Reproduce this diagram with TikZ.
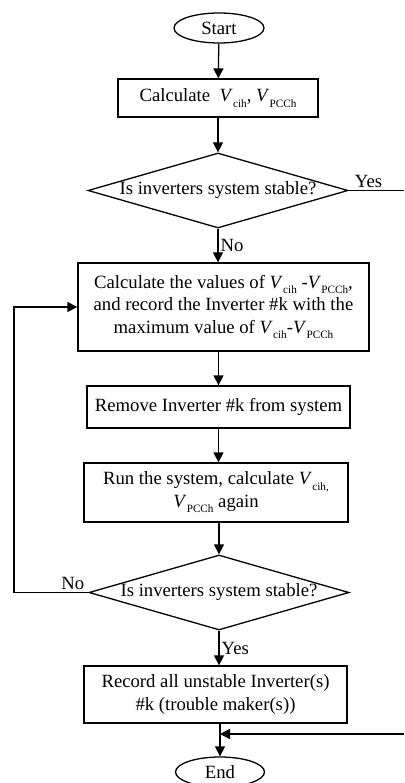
\documentclass[tikz,border=0pt]{standalone}
\usepackage{fontspec}
\setmainfont{Liberation Serif}
\usetikzlibrary{shapes.geometric,arrows.meta,calc}
\newcommand\fsz{\fontsize{18.7}{22.5}\selectfont}
\newcommand\vsub[1]{\textit{V}\kern0.3pt\raisebox{-0.3em}{\fontsize{11.2}{11.2}\selectfont #1}}
\begin{document}
\begin{tikzpicture}[x=1pt,y=-1pt,
  line width=1.3pt,
  every node/.style={font=\fsz, line width=1.3pt},
  term/.style={draw, ellipse, inner sep=0pt},
  proc/.style={draw, rectangle, inner sep=0pt, align=center},
  decide/.style={draw, diamond, inner sep=0pt, shape aspect=3.47, minimum width=260pt, minimum height=75pt},
  arr/.style={-{Triangle[length=10pt,width=10pt]}},
  lbl/.style={inner sep=2pt}]
\useasboundingbox (0,0) rectangle (404,783);
\node[term, minimum width=90pt, minimum height=30pt] (start) at (219,28) {Start};
\node[proc, minimum width=200pt, minimum height=38pt] (calc) at (218,98) {Calculate~~\vsub{cih}, \vsub{PCCh}};
\node[decide] (d1) at (218,190.5) {Is inverters system stable?};
\node[proc, minimum width=291pt, minimum height=88pt] (r2) at (223.5,307)
  {Calculate the values of \vsub{cih} -\vsub{PCCh},\\ and record the Inverter \#k with the\\ maximum value of \vsub{cih}-\vsub{PCCh}};
\node[proc, minimum width=263pt, minimum height=42pt] (r3) at (218.5,407) {Remove Inverter \#k from system};
\node[proc, minimum width=264pt, minimum height=59pt] (r4) at (216,492.5)
  {Run the system, calculate \vsub{cih,}\\ \vsub{PCCh} again};
\node[decide] (d2) at (219,592.5) {Is inverters system stable?};
\node[proc, minimum width=263pt, minimum height=57pt] (r5) at (215.5,694.5)
  {Record all unstable Inverter(s)\\ \#k (trouble maker(s))};
\node[term, minimum width=89pt, minimum height=30pt] (end) at (220,772) {End};
\coordinate (yesend) at (404,190.5);
\coordinate (rin) at (404,734);
\coordinate (loopx) at (14,0);
% connectors
\draw[arr] (start) -- (calc);
\draw[arr] (calc) -- (d1);
\draw[arr] (d1.south) -- node[right, lbl] {No} (d1.south |- r2.north);
\draw (d1.east) -- node[above, lbl, pos=0.36] {Yes} (yesend);
\draw[arr] (r2.south -| r3.north) -- (r3.north);
\draw[arr] (r3.south) -- (r3.south |- r4.north);
\draw[arr] (r4.south -| d2.north) -- (d2.north);
\draw[arr] (d2.west) -- node[above, lbl, pos=0.21] {No} (d2.west -| loopx) |- (r2.west);
\draw[arr] (d2.south) -- node[right, lbl] {Yes} (d2.south |- r5.north);
\draw[arr] (end.north |- r5.south) -- (end.north);
\draw[arr] (rin) -- (rin -| end.north);
\end{tikzpicture}
\end{document}
